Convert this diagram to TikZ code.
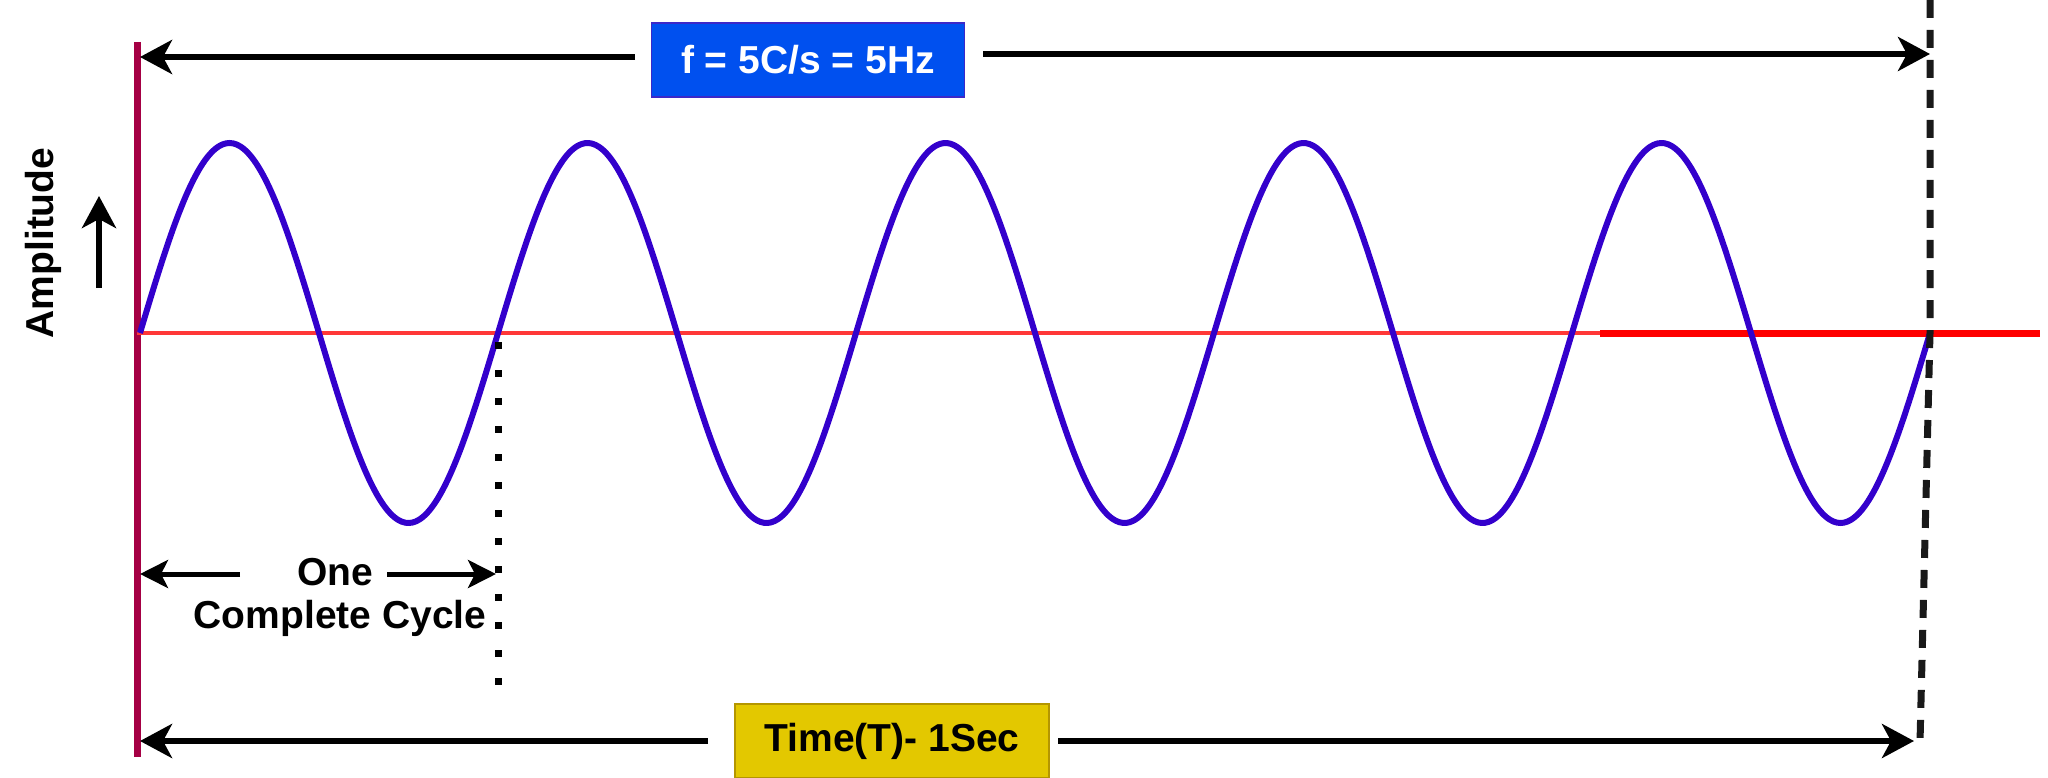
\documentclass[tikz,border=0pt]{standalone}
\usepackage{fontspec}
\setmainfont{Liberation Sans}
\usetikzlibrary{arrows.meta}
\definecolor{maroonline}{RGB}{165,0,68}
\definecolor{wavecol}{RGB}{51,0,204}
\definecolor{axisred}{RGB}{255,55,55}
\definecolor{fblue}{RGB}{0,80,239}
\definecolor{fblueborder}{RGB}{60,40,200}
\definecolor{tgold}{RGB}{227,200,0}
\definecolor{tgoldborder}{RGB}{180,150,0}
\begin{document}
\begin{tikzpicture}[x=1pt,y=-1pt,
  bigarrow/.style={line width=6pt, -{Stealth[length=32pt,width=34pt,inset=9pt]}},
  smallarrow/.style={line width=5pt, -{Stealth[length=28pt,width=28pt,inset=7pt]}},
  lbl/.style={font=\fontsize{39}{47}\selectfont\bfseries, align=center, inner sep=0pt},
  boxlbl/.style={font=\fontsize{39}{47}\selectfont\bfseries, minimum height=74pt, inner sep=0pt, line width=1.5pt}]
\useasboundingbox (0,0) rectangle (2048,778);

% left vertical line
\coordinate (ltop) at (137,42);
\coordinate (lbot) at (137,757);
\draw[maroonline, line width=7pt] (ltop) -- (lbot);

% axis
\coordinate (ax0) at (137,333);
\coordinate (ax1) at (1600,333);
\coordinate (ax2) at (2040,333);
\draw[axisred, line width=4pt] (ax0) -- (ax1);
\draw[red, line width=7pt] (ax1) -- (ax2);

% sine wave
\draw[wavecol, line width=6pt, domain=140:1930, samples=500, smooth]
  plot (\x, {333-190*sin((\x-140)/358*360)});

% right dashed line
\coordinate (rtop) at (1930,0);
\coordinate (rmid) at (1930,333);
\coordinate (rbot) at (1920,742);
\draw[black!90, line width=7pt, dash pattern=on 18pt off 12pt] (rtop) -- (rmid) -- (rbot);

% dotted cycle end line
\coordinate (dtop) at (498,342);
\coordinate (dbot) at (498,690);
\draw[line width=7pt, dash pattern=on 7pt off 21pt] (dtop) -- (dbot);

% top frequency label and arrows
\node[boxlbl, fill=fblue, draw=fblueborder, text=white, minimum width=313pt] (fbox) at (808,60) {f = 5C/s = 5Hz};
\coordinate (tl0) at (635,57);
\coordinate (tl1) at (140,57);
\coordinate (tr0) at (983,54);
\coordinate (tr1) at (1930,54);
\draw[bigarrow] (tl0) -- (tl1);
\draw[bigarrow] (tr0) -- (tr1);

% bottom time label and arrows
\node[boxlbl, fill=tgold, draw=tgoldborder, text=black, minimum width=314pt] (tbox) at (892,741) {Time(T)- 1Sec};
\coordinate (bl0) at (708,741);
\coordinate (bl1) at (140,741);
\coordinate (br0) at (1058,741);
\coordinate (br1) at (1914,741);
\draw[bigarrow] (bl0) -- (bl1);
\draw[bigarrow] (br0) -- (br1);

% one complete cycle
\node[lbl] (one) at (335,572) {One};
\node[lbl] (cc) at (340,618) {Complete Cycle};
\coordinate (cl0) at (240,574);
\coordinate (cl1) at (140,574);
\coordinate (cr0) at (387,574);
\coordinate (cr1) at (496,574);
\draw[smallarrow] (cl0) -- (cl1);
\draw[smallarrow] (cr0) -- (cr1);

% amplitude
\node[lbl, rotate=90] (amp) at (43,243) {Amplitude};
\coordinate (a0) at (99,288);
\coordinate (a1) at (99,196);
\draw[line width=6pt, -{Stealth[length=32pt,width=34pt,inset=9pt]}] (a0) -- (a1);
\end{tikzpicture}
\end{document}
